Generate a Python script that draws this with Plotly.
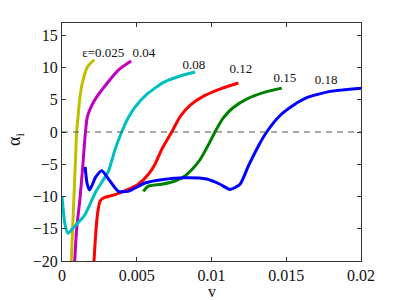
import plotly.graph_objects as go

# ---- data ----
eps_labels = ["ε=0.025", "0.04", "0.08", "0.12", "0.15", "0.18"]
colors = ["#BFBF00", "#BF00BF", "#00BFBF", "#FF0000", "#008000", "#0000FF"]

x_025 = [0.00062, 0.0008, 0.00089, 0.00098, 0.00108, 0.00118, 0.00136, 0.0017, 0.00216]
y_025 = [-20, -10, -5, 0, 2.5, 5, 7.6, 10.1, 11.2]

x_04 = [0.00085, 0.00098, 0.0012, 0.0014, 0.00148, 0.00157, 0.0017, 0.0022, 0.00303, 0.00377, 0.00462]
y_04 = [-20, -15, -10.4, -5, -2.5, 0, 2.4, 5, 7.6, 9.6, 11.0]

x_08 = [0.0, 0.0002, 0.0004, 0.0007, 0.00154, 0.00225, 0.0031, 0.00355, 0.00399, 0.00445, 0.0049, 0.0057, 0.0068, 0.0078, 0.0089]
y_08 = [-10, -14.3, -15.7, -15.0, -12.8, -9.3, -6.1, -2.7, 0, 2.3, 3.9, 5.9, 7.7, 8.6, 9.3]

x_12 = [0.00214, 0.00228, 0.0024, 0.00255, 0.0028, 0.00355, 0.00443, 0.0051, 0.00577, 0.00622, 0.00667, 0.00734, 0.0079, 0.0086, 0.0095, 0.0106, 0.0118]
y_12 = [-20, -15, -12.3, -10.7, -10.2, -9.7, -8.9, -8.1, -6.6, -5.0, -2.7, 0, 2.4, 4.2, 5.6, 6.7, 7.6]

x_15 = [0.00544, 0.00577, 0.00667, 0.00756, 0.00823, 0.00866, 0.00923, 0.00979, 0.01023, 0.01079, 0.01146, 0.01235, 0.01347, 0.0147]
y_15 = [-9.2, -8.4, -8.1, -7.6, -6.8, -5.9, -4.3, -2.0, 0, 2.2, 3.8, 5.1, 6.1, 6.8]

x_18 = [0.00155, 0.00168, 0.00185, 0.00225, 0.00266, 0.00321, 0.00377, 0.00443, 0.00555, 0.00667, 0.00823, 0.00968, 0.01057, 0.01124, 0.01191, 0.01246, 0.01313, 0.01369, 0.0146, 0.0155, 0.01634, 0.01793, 0.02]
y_18 = [-5.4, -8.0, -9.0, -7.0, -6.0, -7.6, -9.2, -9.2, -7.9, -7.4, -7.1, -7.3, -8.1, -8.9, -8.1, -5.3, -2.2, 0, 2.6, 4.2, 5.3, 6.3, 6.8]

label_x = [0.00276, 0.00548, 0.00882, 0.01197, 0.0149, 0.01766]
label_y = [12.2, 12.2, 10.3, 9.6, 8.2, 7.9]

x_ticks = [0, 0.005, 0.01, 0.015, 0.02]
x_tick_text = ["0", "0.005", "0.01", "0.015", "0.02"]
y_ticks = [-20, -15, -10, -5, 0, 5, 10, 15]

series_x = [x_025, x_04, x_08, x_12, x_15, x_18]
series_y = [y_025, y_04, y_08, y_12, y_15, y_18]

serif = "'Liberation Serif', 'Times New Roman', 'DejaVu Serif', serif"

fig = go.Figure()
for xs, ys, c, name in zip(series_x, series_y, colors, eps_labels):
    fig.add_trace(go.Scatter(x=xs, y=ys, mode="lines", name=name,
                             line=dict(color=c, width=3, shape="spline", smoothing=0.6),
                             showlegend=False, hoverinfo="skip"))

fig.add_trace(go.Scatter(x=[0, 0.02], y=[0, 0], mode="lines",
                         line=dict(color="#555555", width=1, dash="6px,5px"),
                         showlegend=False, hoverinfo="skip"))

fig.add_trace(go.Scatter(x=label_x, y=label_y, mode="text", text=eps_labels,
                         textfont=dict(family=serif, size=13, color="#111111"),
                         showlegend=False, hoverinfo="skip"))

fig.update_layout(
    width=399, height=300,
    margin=dict(l=62, r=38, t=23, b=39),
    paper_bgcolor="white", plot_bgcolor="white",
    font=dict(family=serif, size=16, color="#111111"),
    xaxis=dict(range=[0, 0.02], tickvals=x_ticks, ticktext=x_tick_text,
               ticks="inside", ticklen=4, tickcolor="#333333",
               showline=True, linecolor="#333333", linewidth=1, mirror="ticks",
               showgrid=False, zeroline=False, tickfont=dict(family=serif, size=16)),
    yaxis=dict(range=[-20, 16.9], tickvals=y_ticks,
               ticks="inside", ticklen=4, tickcolor="#333333",
               showline=True, linecolor="#333333", linewidth=1, mirror="ticks",
               showgrid=False, zeroline=False, tickfont=dict(family=serif, size=16)),
    annotations=[
        dict(text="v", xref="paper", yref="paper", x=0.5, y=-30 / 238,
             xanchor="center", yanchor="middle", showarrow=False,
             font=dict(family=serif, size=16)),
        dict(text="α<sub>i</sub>", xref="paper", yref="paper",
             x=(15 - 62) / 299, y=(261 - 140) / 238, textangle=-90,
             xanchor="center", yanchor="middle", showarrow=False,
             font=dict(family=serif, size=18)),
    ],
)

fig.write_html("out.html", config={"displayModeBar": False},
               post_script="document.body.style.margin='0';")
